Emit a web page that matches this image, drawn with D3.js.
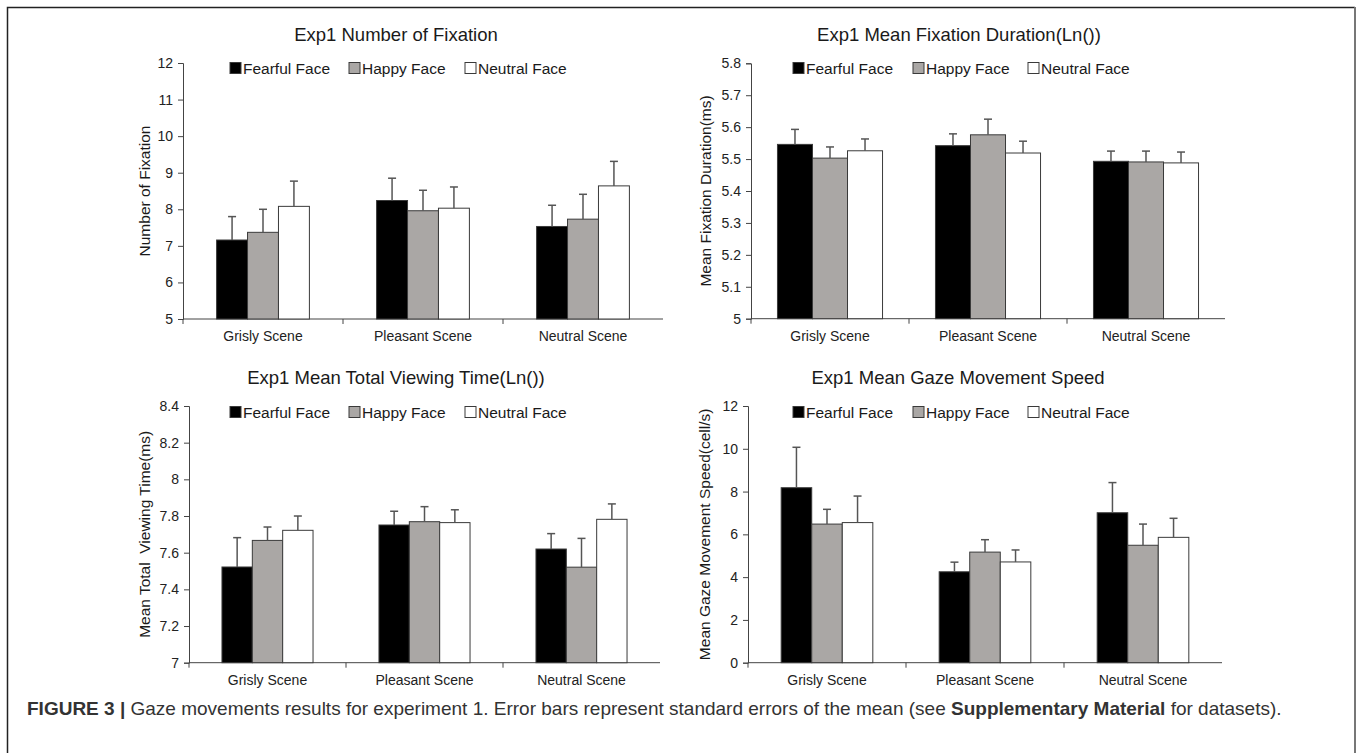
<!DOCTYPE html>
<html>
<head>
<meta charset="utf-8">
<script src="https://cdn.jsdelivr.net/npm/d3@7"></script>
<style>
  body { margin: 0; background: #fff; }
  svg { display: block; font-family: "Liberation Sans", Arial, sans-serif; }
  .tick text { font-size: 14px; fill: #222; }
  .domain, .tick line { stroke: #444; }
</style>
</head>
<body>
<svg id="fig" width="1357" height="753"></svg>
<script>
// categories + series
var scenes = ["Grisly Scene", "Pleasant Scene", "Neutral Scene"];
var faces = ["Fearful Face", "Happy Face", "Neutral Face"];
var faceColors = ["#000000", "#aaa7a5", "#ffffff"];

// Exp1 Number of Fixation  (rows = scene, cols = face)
var fixCount = [[7.16, 7.37, 8.08], [8.24, 7.96, 8.03], [7.53, 7.73, 8.64]];
var fixCountErr = [[0.64, 0.63, 0.69], [0.61, 0.56, 0.58], [0.58, 0.68, 0.67]];
var fixCountTicks = [5, 6, 7, 8, 9, 10, 11, 12];

// Exp1 Mean Fixation Duration(Ln())
var fixDur = [[5.546, 5.503, 5.526], [5.542, 5.576, 5.519], [5.493, 5.491, 5.488]];
var fixDurErr = [[0.047, 0.035, 0.037], [0.037, 0.049, 0.037], [0.032, 0.034, 0.034]];
var fixDurTicks = [5, 5.1, 5.2, 5.3, 5.4, 5.5, 5.6, 5.7, 5.8];

// Exp1 Mean Total Viewing Time(Ln())
var viewTime = [[7.522, 7.667, 7.722], [7.751, 7.769, 7.764], [7.620, 7.521, 7.782]];
var viewTimeErr = [[0.160, 0.073, 0.078], [0.075, 0.082, 0.070], [0.084, 0.157, 0.084]];
var viewTimeTicks = [7, 7.2, 7.4, 7.6, 7.8, 8, 8.2, 8.4];

// Exp1 Mean Gaze Movement Speed
var gazeSpeed = [[8.18, 6.48, 6.55], [4.25, 5.17, 4.71], [7.01, 5.49, 5.86]];
var gazeSpeedErr = [[1.89, 0.69, 1.24], [0.45, 0.58, 0.56], [1.41, 0.99, 0.89]];
var gazeSpeedTicks = [0, 2, 4, 6, 8, 10, 12];

var panels = [
  { title: "Exp1 Number of Fixation", ylab: "Number of Fixation",
    vals: fixCount, errs: fixCountErr, ticks: fixCountTicks,
    x0: 183, x1: 663, yTop: 63, yBot: 319, pad: 0.42,
    titleX: 396, titleY: 41, ylabX: 150, legX: 230, legY: 68, legGap: [0, 119, 235] },
  { title: "Exp1 Mean Fixation Duration(Ln())", ylab: "Mean Fixation Duration(ms)",
    vals: fixDur, errs: fixDurErr, ticks: fixDurTicks,
    x0: 751, x1: 1225, yTop: 63.3, yBot: 318.7, pad: 0.335,
    titleX: 959, titleY: 41, ylabX: 711, legX: 793, legY: 68, legGap: [0, 120, 235] },
  { title: "Exp1 Mean Total Viewing Time(Ln())", ylab: "Mean Total  Viewing Time(ms)",
    vals: viewTime, errs: viewTimeErr, ticks: viewTimeTicks,
    x0: 189, x1: 660, yTop: 406, yBot: 662.7, pad: 0.42,
    titleX: 396, titleY: 384, ylabX: 150, legX: 230, legY: 412, legGap: [0, 119, 235] },
  { title: "Exp1 Mean Gaze Movement Speed", ylab: "Mean Gaze Movement Speed(cell/s)",
    vals: gazeSpeed, errs: gazeSpeedErr, ticks: gazeSpeedTicks,
    x0: 748, x1: 1222, yTop: 406, yBot: 662.7, pad: 0.42,
    titleX: 958, titleY: 384, ylabX: 710, legX: 793, legY: 412, legGap: [0, 120, 235] }
];

var svg = d3.select("#fig");

// frame
svg.append("path").attr("d", "M7.5,753 V7.5 H1355")
  .attr("fill", "none").attr("stroke", "#222").attr("stroke-width", 1.5);
svg.append("line").attr("x1", 1355).attr("x2", 1355).attr("y1", 7).attr("y2", 753)
  .attr("stroke", "#777").attr("stroke-width", 2);

panels.forEach(function (p) {
  var g = svg.append("g");
  var tk = p.ticks;
  var y = d3.scaleLinear().domain([tk[0], tk[tk.length - 1]]).range([p.yBot, p.yTop]);
  var x = d3.scaleBand().domain(scenes).range([p.x0, p.x1])
    .paddingInner(p.pad).paddingOuter(p.pad / 2);
  var xs = d3.scaleBand().domain(d3.range(faces.length)).range([0, x.bandwidth()]);

  // y axis
  g.append("g").attr("transform", "translate(" + p.x0 + ",0)")
    .call(d3.axisLeft(y).tickValues(tk).tickSize(5).tickPadding(5).tickFormat(d3.format("~g")));

  // x axis: line + ticks at band boundaries
  var bounds = d3.range(scenes.length + 1).map(function (i) { return p.x0 + i * x.step(); });
  g.append("line").attr("x1", p.x0).attr("x2", p.x1).attr("y1", p.yBot).attr("y2", p.yBot)
    .attr("stroke", "#444");
  g.selectAll(".xt").data(bounds.slice(0, scenes.length)).enter().append("line")
    .attr("x1", function (d) { return d; }).attr("x2", function (d) { return d; })
    .attr("y1", p.yBot).attr("y2", p.yBot + 5).attr("stroke", "#444");
  g.selectAll(".xl").data(scenes).enter().append("text")
    .attr("x", function (d) { return x(d) + x.bandwidth() / 2; })
    .attr("y", p.yBot + 22)
    .attr("text-anchor", "middle").attr("font-size", 14).attr("fill", "#222")
    .text(function (d) { return d; });

  // bars
  var grp = g.selectAll(".grp").data(scenes).enter().append("g")
    .attr("transform", function (d) { return "translate(" + x(d) + ",0)"; });
  grp.each(function (s, si) {
    var gg = d3.select(this);
    faces.forEach(function (f, fi) {
      var v = p.vals[si][fi], e = p.errs[si][fi];
      var cx = xs(fi) + xs.bandwidth() / 2;
      gg.append("rect")
        .attr("x", xs(fi)).attr("width", xs.bandwidth())
        .attr("y", y(v)).attr("height", p.yBot - y(v))
        .attr("fill", faceColors[fi]).attr("stroke", "#3a3a3a").attr("stroke-width", 1);
      gg.append("line").attr("x1", cx).attr("x2", cx)
        .attr("y1", y(v)).attr("y2", y(v + e))
        .attr("stroke", "#555").attr("stroke-width", 1.5);
      gg.append("line").attr("x1", cx - 4).attr("x2", cx + 4)
        .attr("y1", y(v + e)).attr("y2", y(v + e))
        .attr("stroke", "#555").attr("stroke-width", 1.5);
    });
  });

  // title
  g.append("text").attr("x", p.titleX).attr("y", p.titleY)
    .attr("text-anchor", "middle").attr("font-size", 18.5).attr("fill", "#1a1a1a")
    .text(p.title);

  // y label
  g.append("text")
    .attr("transform", "translate(" + p.ylabX + "," + ((p.yTop + p.yBot) / 2) + ") rotate(-90)")
    .attr("text-anchor", "middle").attr("font-size", 15.5).attr("fill", "#1a1a1a")
    .style("white-space", "pre")
    .text(p.ylab);

  // legend
  faces.forEach(function (f, fi) {
    var lx = p.legX + p.legGap[fi];
    g.append("rect").attr("x", lx).attr("y", p.legY - 5.5).attr("width", 11).attr("height", 11)
      .attr("fill", faceColors[fi]).attr("stroke", "#3a3a3a").attr("stroke-width", 1);
    g.append("text").attr("x", lx + 13).attr("y", p.legY + 5.5)
      .attr("font-size", 15.5).attr("fill", "#1a1a1a").text(f);
  });
});

// caption
var cap = svg.append("text").attr("x", 27).attr("y", 715).attr("font-size", 19).attr("fill", "#333");
cap.append("tspan").attr("font-weight", "bold").text("FIGURE 3 | ");
cap.append("tspan").text("Gaze movements results for experiment 1. Error bars represent standard errors of the mean (see ");
cap.append("tspan").attr("font-weight", "bold").text("Supplementary Material");
cap.append("tspan").text(" for datasets).");
</script>
</body>
</html>
